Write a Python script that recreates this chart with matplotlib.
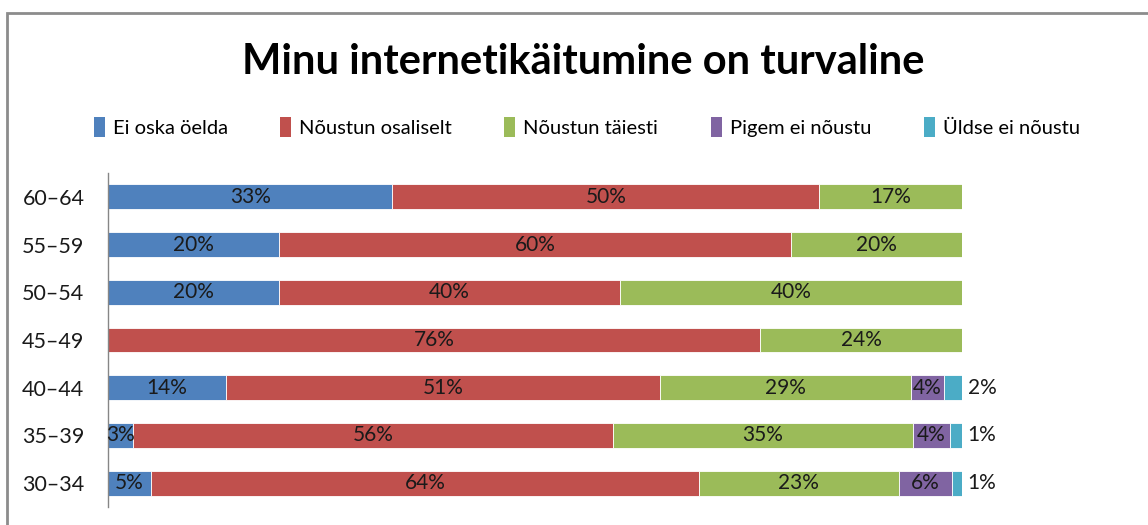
import numpy as np
import matplotlib
matplotlib.use('Agg')
import matplotlib.pyplot as plt
from matplotlib.patches import Rectangle, Patch

plt.rcParams['font.family'] = ['Lato', 'DejaVu Sans']

# age groups, bottom to top
groups = ['30–34', '35–39', '40–44', '45–49', '50–54', '55–59', '60–64']
series = ['Ei oska öelda', 'Nõustun osaliselt', 'Nõustun täiesti',
          'Pigem ei nõustu', 'Üldse ei nõustu']

# shares in percent
ei_oska = [5.0, 2.9, 13.8, 0.0, 20.0, 20.0, 33.3]
osaliselt = [64.2, 56.2, 50.8, 76.4, 40.0, 60.0, 50.0]
taiesti = [23.4, 35.2, 29.4, 23.6, 40.0, 20.0, 16.7]
pigem_ei = [6.2, 4.25, 3.9, 0.0, 0.0, 0.0, 0.0]
uldse_ei = [1.2, 1.45, 2.1, 0.0, 0.0, 0.0, 0.0]

colors = ['#4F81BD', '#C0504D', '#9BBB59', '#8064A2', '#4BACC6']
values = [ei_oska, osaliselt, taiesti, pigem_ei, uldse_ei]

fig = plt.figure(figsize=(11.48, 5.25), dpi=100)
ax = fig.add_axes([108 / 1148, 1 - 507 / 525, (962 - 108) / 1148, (507 - 173) / 525])

y = np.arange(len(groups))
left = np.zeros(len(groups))
for k, (vals, col) in enumerate(zip(values, colors)):
    vals = np.array(vals)
    ax.barh(y, vals, left=left, height=0.52, color=col, edgecolor='white',
            linewidth=0.6)
    for i, v in enumerate(vals):
        if v <= 0:
            continue
        if k == 4:
            ax.annotate(f'{v:.0f}%', (left[i] + v, i), xytext=(4, 0),
                        textcoords='offset points', ha='left', va='center',
                        fontsize=15, color='#1a1a1a')
        else:
            ax.text(left[i] + v / 2, i, f'{v:.0f}%', ha='center', va='center',
                    fontsize=15, color='#1a1a1a')
    left += vals

ax.set_xlim(0, 100)
ax.set_ylim(-0.5, len(groups) - 0.5)
ax.set_yticks(y)
ax.set_yticklabels(groups, fontsize=15.5, color='#1a1a1a')
ax.tick_params(axis='y', length=0, pad=17)
ax.set_xticks([])
for s in ['top', 'right', 'bottom']:
    ax.spines[s].set_visible(False)
ax.spines['left'].set_color('#868686')
ax.spines['left'].set_linewidth(1)

fig.text(0.508, 1 - 62 / 525, 'Minu internetikäitumine on turvaline',
         ha='center', va='center', fontsize=30, fontweight='bold')

handles = [Patch(facecolor=c, edgecolor='none') for c in colors]
fig.legend(handles, series, loc='center', bbox_to_anchor=(0.511, 1 - 127 / 525),
           ncol=5, frameon=False, fontsize=14.5, handlelength=0.55,
           handleheight=1.1, handletextpad=0.4, columnspacing=2.6)

# chart area border
fig.patches.append(Rectangle((7 / 1148, -0.2), 1.2, 1.2 - 13 / 525,
                             transform=fig.transFigure, fill=False,
                             edgecolor='#8c8c8c', linewidth=2))

fig.savefig('out.png', dpi=100)
